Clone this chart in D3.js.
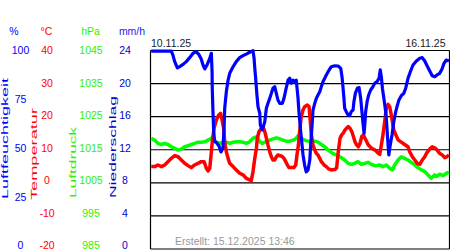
<!DOCTYPE html>
<meta charset="utf-8">

<style>
  body { margin: 0; background: white; }
  svg text { font-family: "Liberation Sans", Arial, sans-serif; }
</style>

<script src="https://d3js.org/d3.v7.min.js"></script>

<div id="chart"></div>

<script>

  // hours since 10.11.25 00:00, value
  var humidity = [[0.4, 99.7], [11.7, 99.7], [12.6, 97.7], [13.6, 94.4], [15.1, 91.3], [16.4, 91.9], [18.3, 93.0],
    [20.1, 94.4], [22.0, 96.4], [23.9, 98.6], [25.7, 99.4], [27.1, 98.1], [28.5, 95.7], [29.5, 92.7], [30.5, 90.7],
    [31.9, 93.0], [33.3, 96.1], [34.2, 98.6], [34.6, 89.3], [34.7, 81], [35.1, 69.2], [35.5, 59.1], [36.1, 54.1],
    [36.8, 53.9], [38.5, 51.9], [39.6, 48.9], [40.7, 50.9], [41.3, 60], [41.7, 70.9], [42.6, 79.2], [43.6, 85.1],
    [44.5, 88.5], [46.4, 91.8], [48.2, 94.4], [50.1, 96.4], [52.0, 97.4], [53.8, 98.2], [55.7, 99.1], [57.6, 99.9],
    [58.2, 96.1], [58.6, 91], [59.1, 86], [59.8, 77.6], [60.4, 71.7], [61.4, 68.4], [61.7, 62.5], [62.8, 60],
    [64.2, 64.1], [65.1, 70.9], [66.0, 73.4], [67.0, 75.9], [67.9, 78.4], [68.8, 81], [69.8, 81.8], [70.7, 78.4],
    [71.6, 75.1], [72.6, 73.4], [74.1, 73.4], [75.0, 75.9], [76.0, 80.1], [77.3, 85.1], [78.2, 86], [79.1, 83.5],
    [80.1, 85.1], [81.0, 84.3], [81.9, 85.1], [82.9, 75.9], [83.4, 69.2], [84.4, 59.1], [85.7, 47.4], [86.6, 42.3],
    [87.5, 38.9], [88.5, 39.8], [89.5, 44.8], [90.0, 52.4], [90.8, 62.5], [91.3, 70], [92.3, 73.4], [93.2, 75.9],
    [94.1, 77.6], [95.1, 79.2], [96.0, 81.8], [96.9, 84.3], [97.9, 86], [98.8, 87.7], [99.8, 89.3], [100.7, 90.7],
    [101.6, 91.8], [103.5, 92.3], [105.4, 92.2], [106.9, 91], [107.6, 86.8], [108.2, 81], [108.7, 75.9],
    [109.1, 70.9], [110.0, 69.2], [111.0, 67.5], [111.9, 67.2], [112.8, 69.2], [113.8, 70], [114.3, 74.2],
    [115.1, 78.4], [116.2, 81], [117.2, 81.3], [118.1, 75.9], [118.8, 69.2], [119.4, 63.3], [120.0, 58.3],
    [120.4, 62.5], [120.9, 69.2], [121.7, 74.2], [122.6, 77.6], [123.7, 80.1], [125.0, 81.8], [126.0, 83.5],
    [127.3, 84.3], [128.4, 86], [129.1, 90.2], [129.7, 86.8], [130.3, 81], [131.0, 76.7], [131.9, 70.9],
    [132.5, 65.8], [133.1, 57.4], [133.9, 47.4], [134.7, 52.4], [135.7, 57.4], [136.7, 64.1], [137.6, 68.4],
    [138.5, 71.7], [139.6, 75.1], [140.9, 77.2], [142.3, 78.4], [143.4, 81], [144.7, 86], [146.0, 89.3],
    [147.5, 92.7], [149.4, 94.7], [151.3, 96.1], [152.7, 96.4], [154.1, 94.7], [155.4, 92.3], [156.9, 89.7],
    [158.3, 87.3], [159.7, 86.8], [161.0, 87.7], [162.5, 88.5], [163.8, 90.7], [164.9, 93.5], [166.2, 95.2],
    [167.7, 94.7]]

  var temperature = [[0.4, 4.9], [2.4, 4.9], [4.2, 5.4], [6.1, 4.9], [8.0, 5.4], [9.8, 6.4], [11.7, 7.4], [13.6, 8.2],
    [15.5, 7.9], [17.3, 6.9], [19.2, 5.9], [21.1, 5.2], [22.9, 4.6], [24.8, 5.4], [26.7, 5.9], [28.5, 6.4],
    [30.1, 6.4], [31.4, 4.4], [32.3, 3.6], [33.3, 4.4], [34.2, 9.4], [34.7, 12.4], [35.7, 16.5], [37.0, 19.0],
    [38.3, 20.5], [39.4, 21.0], [40.2, 19.0], [41.1, 16.5], [41.7, 12.4], [42.6, 9.4], [43.6, 7.4], [44.5, 5.9],
    [46.4, 4.9], [48.2, 3.9], [50.1, 2.9], [52.0, 2.4], [53.8, 1.4], [55.7, 0.9], [56.6, 0.6], [57.6, 3.4],
    [58.6, 7.4], [59.5, 10.4], [60.0, 13.5], [61.0, 15.5], [62.3, 16.5], [63.2, 17.0], [64.2, 15.5], [65.1, 13.5],
    [66.0, 11.4], [67.0, 9.4], [67.9, 7.9], [68.8, 6.9], [69.8, 6.9], [70.7, 7.9], [71.6, 8.4], [72.9, 8.2],
    [74.1, 7.9], [75.0, 7.4], [76.0, 6.4], [76.9, 5.4], [77.8, 4.6], [79.1, 4.6], [80.5, 4.6], [81.6, 5.4],
    [82.3, 8.4], [83.1, 11.4], [83.8, 15.5], [84.7, 20.0], [85.7, 22.0], [86.6, 23.0], [88.1, 23.5], [89.1, 23.0],
    [89.8, 18.5], [90.4, 14.5], [91.3, 11.4], [92.3, 9.9], [93.2, 8.9], [94.1, 8.4], [95.1, 7.4], [96.0, 6.4],
    [97.5, 5.4], [98.8, 4.9], [100.1, 4.2], [101.6, 3.9], [103.5, 4.0], [104.6, 4.5], [105.5, 9.4], [106.5, 13.5],
    [107.4, 14.5], [108.3, 15.0], [109.3, 16.0], [110.2, 16.5], [111.1, 17.0], [112.1, 16.5], [113.1, 15.5],
    [114.0, 14.0], [114.9, 12.4], [115.9, 11.4], [116.8, 10.9], [117.7, 11.9], [118.7, 14.0], [119.6, 14.5],
    [120.5, 13.5], [121.5, 12.4], [122.4, 11.4], [124.3, 10.4], [126.2, 9.9], [128.0, 8.9], [128.8, 8.6],
    [129.7, 11.4], [130.6, 14.5], [131.6, 18.5], [132.5, 22.6], [133.5, 23.7], [134.4, 23.0], [135.3, 20.5],
    [135.9, 18.5], [136.7, 16.0], [137.8, 14.5], [139.1, 13.0], [140.9, 12.3], [142.8, 11.6], [144.7, 10.9],
    [145.6, 9.4], [147.1, 7.9], [148.5, 6.9], [149.8, 5.9], [151.3, 5.6], [152.7, 6.9], [154.1, 7.9], [155.4, 9.2],
    [156.9, 10.2], [158.3, 10.9], [159.7, 10.6], [161.0, 9.9], [162.5, 8.9], [164.0, 8.4], [165.3, 7.6],
    [166.6, 7.9], [167.7, 8.4]]

  var pressure = [[0.4, 1018.5], [2.4, 1017.9], [4.2, 1016.9], [6.1, 1016.6], [8.0, 1016.9], [9.8, 1016.6],
    [11.7, 1015.9], [13.6, 1015.4], [15.5, 1014.9], [17.3, 1015.2], [19.2, 1015.9], [21.1, 1016.2], [22.9, 1016.6],
    [24.8, 1016.9], [26.7, 1017.3], [28.5, 1017.3], [30.5, 1017.4], [32.3, 1017.9], [34.2, 1018.5], [35.1, 1017.6],
    [37.0, 1017.3], [38.9, 1016.9], [40.7, 1017.3], [42.6, 1017.3], [44.5, 1016.9], [46.4, 1017.3], [48.2, 1017.4],
    [50.1, 1017.4], [52.0, 1017.3], [53.8, 1016.9], [55.7, 1017.4], [57.6, 1018.5], [59.5, 1018.9], [60.4, 1018.5],
    [61.4, 1017.4], [62.8, 1016.9], [64.2, 1017.3], [65.1, 1017.4], [67.0, 1017.9], [68.8, 1018.3], [70.7, 1018.6],
    [72.6, 1018.3], [74.5, 1017.9], [76.3, 1017.6], [78.2, 1017.6], [80.1, 1017.9], [81.9, 1018.5], [83.4, 1019.5],
    [84.7, 1018.5], [86.6, 1017.9], [88.5, 1017.6], [90.4, 1017.4], [92.3, 1017.6], [94.1, 1017.3], [96.0, 1016.6],
    [97.9, 1015.9], [99.8, 1014.9], [101.6, 1014.2], [103.5, 1013.6], [105.4, 1013.2], [107.2, 1012.6],
    [109.1, 1011.9], [111.0, 1010.9], [112.8, 1010.6], [114.7, 1010.9], [116.6, 1011.4], [118.5, 1010.6],
    [120.4, 1010.9], [122.2, 1011.2], [124.1, 1010.6], [126.0, 1010.2], [126.9, 1010.2], [128.8, 1010.4],
    [130.6, 1009.9], [132.5, 1010.4], [134.4, 1009.4], [135.9, 1008.9], [137.2, 1010.4], [139.1, 1011.9],
    [140.9, 1012.9], [142.8, 1012.4], [144.7, 1011.9], [146.5, 1011.2], [148.5, 1010.4], [150.3, 1009.6],
    [152.2, 1008.9], [154.1, 1008.4], [155.9, 1007.4], [157.8, 1006.4], [158.8, 1006.9], [159.7, 1007.4],
    [160.6, 1006.9], [162.5, 1007.6], [164.4, 1007.2], [166.2, 1007.9], [167.7, 1008.2]]

  // tick labels of the four scales
  var humTicks = [100, 75, 50, 25, 0]
  var tempTicks = [40, 30, 20, 10, 0, -10, -20]
  var pressTicks = [1045, 1035, 1025, 1015, 1005, 995, 985]
  var rainTicks = [24, 20, 16, 12, 8, 4, 0]
  var dateLabels = ["10.11.25", "16.11.25"]
  var created = "Erstellt: 15.12.2025 13:46"

  var width = 450, height = 250
  var plotLeft = 150.5, plotRight = 449.5, plotTop = 50.5, plotBottom = 249

  var svg = d3.select("#chart")
    .append("svg")
    .attr("width", width)
    .attr("height", height)

  // scales
  var x = d3.scaleLinear().domain([0, 168]).range([plotLeft, plotRight])
  var yHum = d3.scaleLinear().domain([0, 100]).range([plotBottom, plotTop])
  var yTemp = d3.scaleLinear().domain([-20, 40]).range([plotBottom, plotTop])
  var yPress = d3.scaleLinear().domain([985, 1045]).range([plotBottom, plotTop])
  // labels sit a little higher than the grid at the bottom
  var labelPos = d3.scaleLinear().domain([0, 6]).range([50.7, 245.7])
  var humLabel = d3.scaleLinear().domain([0, 100]).range([245.7, 50.7])

  // header units
  var headers = [["%", 14, "#0000ff"], ["°C", 46.5, "#ff0000"], ["hPa", 90.5, "#33ee00"], ["mm/h", 132, "#2222ee"]]
  svg.selectAll(".unit")
    .data(headers)
    .enter()
    .append("text")
    .attr("x", function (d) { return d[1] })
    .attr("y", 35)
    .attr("text-anchor", "middle")
    .style("font-size", "10.5px")
    .style("fill", function (d) { return d[2] })
    .text(function (d) { return d[0] })

  // tick label columns
  function tickColumn(ticks, xPos, color, pos) {
    svg.append("g")
      .selectAll("text")
      .data(ticks)
      .enter()
      .append("text")
      .attr("x", xPos)
      .attr("y", function (d, i) { return pos(d, i) })
      .attr("dy", "0.35em")
      .attr("text-anchor", "middle")
      .style("font-size", "10.5px")
      .style("fill", color)
      .text(function (d) { return d })
  }
  tickColumn(humTicks, 20.5, "#0000ff", function (d) { return humLabel(d) })
  tickColumn(tempTicks, 47, "#ff0000", function (d, i) { return labelPos(i) })
  tickColumn(pressTicks, 91, "#33ee00", function (d, i) { return labelPos(i) })
  tickColumn(rainTicks, 125, "#0000cc", function (d, i) { return labelPos(i) })

  // rotated axis titles
  var titles = [["Luftfeuchtigkeit", 7.5, 199, 121, "#0000ff"], ["Temperatur", 37, 200, 92, "#ff0000"],
    ["Luftdruck", 76, 198, 71, "#33ee00"], ["Niederschlag", 116, 198, 102, "#0000cc"]]
  svg.selectAll(".title")
    .data(titles)
    .enter()
    .append("text")
    .attr("transform", function (d) { return "translate(" + d[1] + "," + d[2] + ") rotate(-90)" })
    .attr("textLength", function (d) { return d[3] })
    .attr("lengthAdjust", "spacingAndGlyphs")
    .style("font-size", "9.5px")
    .style("fill", function (d) { return d[4] })
    .text(function (d) { return d[0] })

  // grid lines and frame
  svg.append("g")
    .selectAll("line")
    .data(tempTicks)
    .enter()
    .append("line")
    .attr("x1", plotLeft)
    .attr("x2", plotRight)
    .attr("y1", function (d) { return yTemp(d) })
    .attr("y2", function (d) { return yTemp(d) })
    .attr("stroke", "black")
    .attr("stroke-width", 1.2)

  svg.append("line")
    .attr("x1", plotLeft).attr("x2", plotLeft)
    .attr("y1", plotTop).attr("y2", plotBottom)
    .attr("stroke", "black").attr("stroke-width", 1.2)
  svg.append("line")
    .attr("x1", plotRight).attr("x2", plotRight)
    .attr("y1", plotTop).attr("y2", plotBottom)
    .attr("stroke", "black").attr("stroke-width", 1.2)

  // date labels
  svg.append("text")
    .attr("x", 151)
    .attr("y", 47)
    .style("font-size", "10.5px")
    .style("fill", "#222")
    .text(dateLabels[0])
  svg.append("text")
    .attr("x", 445.5)
    .attr("y", 47)
    .attr("text-anchor", "end")
    .style("font-size", "10.5px")
    .style("fill", "#222")
    .text(dateLabels[1])

  // created stamp
  svg.append("text")
    .attr("x", 175)
    .attr("y", 245)
    .style("font-size", "10.5px")
    .style("fill", "#999")
    .text(created)

  // series lines
  function drawLine(data, yScale, color, w) {
    svg.append("path")
      .datum(data)
      .attr("d", d3.line()
        .x(function (d) { return x(d[0]) })
        .y(function (d) { return yScale(d[1]) })
      )
      .attr("fill", "none")
      .attr("stroke", color)
      .attr("stroke-width", w)
      .attr("stroke-linejoin", "round")
  }

  drawLine(pressure, yPress, "#00ff00", 3.5)
  drawLine(temperature, yTemp, "#ff0000", 3.5)
  drawLine(humidity, yHum, "#0000ff", 3.2)

</script>
